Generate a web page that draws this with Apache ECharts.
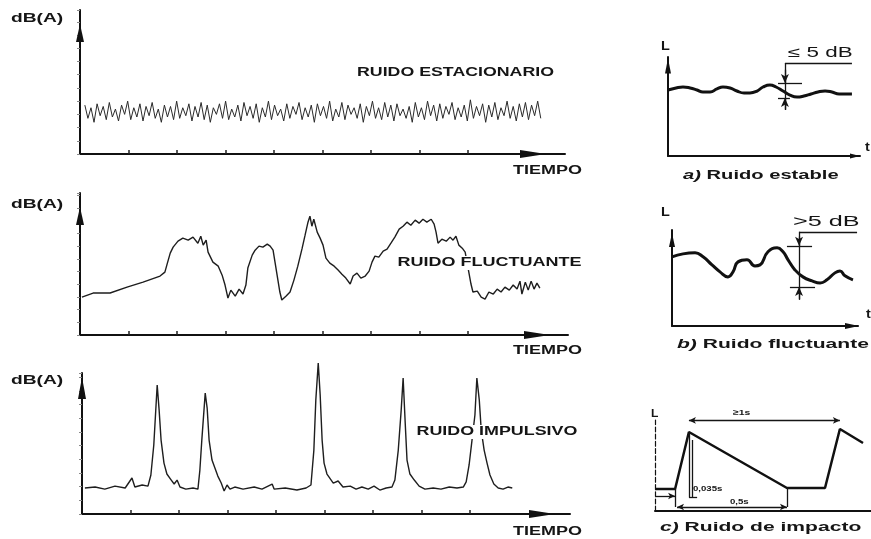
<!DOCTYPE html>
<html>
<head>
<meta charset="utf-8">
<title>Tipos de ruido</title>
<script src="https://cdn.jsdelivr.net/npm/echarts@6/dist/echarts.min.js"></script>
<style>
html,body{margin:0;padding:0;background:#fff;}
#chart{width:871px;height:539px;}
</style>
</head>
<body>
<div id="chart"></div>
<script>
// ruido estacionario: nivel de cada muestra, tiempo de 0.1 a 9.5
var estacionarioNivel = [
    37,27,35,24,38,29,36,26,39,28, 34,25,37,30,40,26,35,28,38,25,
    36,29,39,27,34,24,37,28,36,26, 40,27,35,29,38,25,36,28,39,26,
    37,24,35,30,38,27,40,26,34,28, 37,25,39,29,36,27,38,24,35,28,
    40,26,37,29,34,25,38,27,36,30, 39,26,35,28,37,24,38,29,36,27,
    40,25,34,28,39,26,37,30,35,27, 38,24,36,29,40,27,35,26,39,28,
    37,25,38,29,34,27,36,24,39,28, 35,26,40,29,37,25,38,27,36,30,
    39,26,35,28,37,25,41,27,36,29, 38,24,37,28,39,26,35,29,40,27,
    36,25,38,28,39,26,37,29,40,27
];
var estacionarioInicio = 0.1;
var estacionarioFin = 9.5;

// ruido fluctuante
var fluctuanteTiempo = [0.04,0.27,0.62,0.97,1.30,1.65,1.75,1.79,1.86,1.92,2.02,2.12,2.23,2.33,2.43,2.49,2.54,2.60,2.64,2.74,2.85,2.93,2.99,3.05,3.11,3.20,3.28,3.36,3.42,3.46,3.55,3.61,3.69,3.77,3.86,3.92,3.98,4.02,4.08,4.12,4.16,4.25,4.33,4.41,4.49,4.58,4.64,4.70,4.74,4.78,4.82,4.89,4.95,5.01,5.07,5.15,5.24,5.32,5.40,5.48,5.57,5.63,5.71,5.79,5.88,5.96,6.02,6.08,6.16,6.25,6.33,6.41,6.49,6.58,6.66,6.74,6.82,6.91,6.99,7.07,7.15,7.24,7.30,7.34,7.38,7.46,7.55,7.63,7.69,7.75,7.81,7.88,7.94,8.00,8.06,8.10,8.19,8.27,8.35,8.43,8.52,8.60,8.68,8.76,8.85,8.93,9.01,9.07,9.11,9.18,9.24,9.30,9.36,9.42,9.48];
var fluctuanteNivel = [29.9,33.1,33.1,37.8,41.7,46.5,49.6,55.1,64.6,69.3,74.0,76.4,74.8,77.2,72.4,77.9,70.9,74.8,65.4,57.5,54.3,47.2,39.4,29.1,35.4,30.7,36.2,32.3,39.4,52.8,63.0,66.9,70.1,69.3,71.7,70.1,66.9,57.5,43.3,33.9,27.6,30.7,33.9,43.3,54.3,68.5,78.7,89.0,93.7,85.8,91.3,81.1,76.4,70.9,60.6,56.7,54.3,51.2,48.0,44.9,40.2,46.5,48.8,44.9,46.5,50.4,57.5,62.2,61.4,66.1,67.7,72.4,77.2,83.5,85.8,89.0,86.6,90.6,88.2,91.3,89.0,91.3,87.4,81.1,72.4,75.6,74.0,77.2,74.8,77.9,70.9,68.5,65.4,52.8,40.2,33.9,34.6,29.9,28.3,33.9,32.3,36.2,33.9,37.8,35.4,39.4,36.2,42.5,32.3,41.7,35.4,42.5,36.2,40.9,37.0];

// ruido impulsivo
var impulsivoTiempo = [0.06,0.27,0.47,0.68,0.89,1.03,1.09,1.24,1.36,1.42,1.48,1.55,1.59,1.63,1.69,1.75,1.84,1.90,1.96,2.02,2.14,2.29,2.39,2.43,2.47,2.54,2.58,2.62,2.68,2.74,2.80,2.87,2.93,2.99,3.05,3.15,3.32,3.55,3.71,3.92,3.96,4.19,4.43,4.62,4.72,4.78,4.82,4.87,4.91,4.95,4.99,5.05,5.18,5.28,5.38,5.53,5.65,5.77,5.90,6.02,6.14,6.27,6.39,6.45,6.52,6.58,6.62,6.66,6.70,6.76,6.85,6.95,7.07,7.24,7.40,7.57,7.73,7.86,7.92,7.98,8.04,8.10,8.14,8.19,8.23,8.29,8.35,8.41,8.49,8.58,8.68,8.78,8.87];
var impulsivoNivel = [19.0,19.7,18.2,20.4,19.0,26.3,19.7,21.2,20.4,28.5,50.4,94.2,75.9,54.0,37.2,29.2,24.8,21.9,24.8,19.7,18.2,19.0,18.2,32.1,54.0,88.3,77.4,54.0,39.4,33.6,27.7,22.6,16.8,21.2,18.2,19.7,18.2,19.7,18.2,21.9,18.2,19.0,17.5,19.0,21.2,46.7,83.2,110.2,86.9,54.0,37.2,29.2,22.6,24.1,19.7,20.4,18.2,19.7,18.2,20.4,17.5,19.0,19.7,24.8,46.7,75.9,99.3,68.6,39.4,29.2,24.8,20.4,18.2,19.0,18.2,19.7,19.0,19.7,23.4,35.8,54.0,72.3,99.3,83.2,61.3,46.7,37.2,28.5,21.9,19.0,18.2,19.7,19.0];

// a) ruido estable
var estableTiempo = [0,0.42,0.78,1.15,1.51,1.82,2.19,2.55,2.86,3.23,3.59,3.96,4.27,4.64,4.95,5.31,5.63,5.99,6.35,6.72,7.08,7.45,7.81,8.18,8.54,8.91,9.27,9.58];
var estableNivel = [67.3,69.4,70.4,69.4,67.3,65.3,65.3,68.4,70.4,69.4,66.3,64.3,64.3,66.3,70.4,72.4,70.4,66.3,62.2,60.2,61.2,63.3,65.3,66.3,65.3,63.3,63.3,63.3];
var estableCotas = [[6.09,94.9,6.09,46.9],[6.09,94.9,9.58,94.9],[5.73,74.5,6.98,74.5],[5.73,59.2,6.35,59.2],[6.09,88.0,6.09,74.5],[6.09,47.5,6.09,59.2]];
var estableFlechas = [['none','none'],['none','none'],['none','none'],['none','none'],['none','arrow'],['none','arrow']];

// b) ruido fluctuante
var fluctBTiempo = [0,0.59,1.24,1.67,2.15,2.58,3.01,3.28,3.55,4.03,4.46,4.73,5.16,5.65,5.97,6.24,6.61,7.04,7.53,7.96,8.33,8.76,9.03,9.30,9.73];
var fluctBNivel = [74.2,77.4,78.5,74.2,65.6,58.1,52.7,58.1,68.8,71.0,64.5,65.6,79.6,83.9,79.6,71.0,60.2,52.7,48.4,46.2,49.5,57.0,59.1,53.8,49.5];
var fluctBCotas = [[6.83,101.1,6.83,28.0],[6.83,101.1,9.95,101.1],[6.18,86.0,7.53,86.0],[6.34,41.9,7.69,41.9],[6.83,96.0,6.83,86.0],[6.83,29.0,6.83,41.9]];
var fluctBFlechas = [['none','none'],['none','none'],['none','none'],['none','none'],['none','arrow'],['none','arrow']];

// c) ruido de impacto
var impactoTiempo = [0,0.93,1.57,6.11,7.87,8.56,9.63];
var impactoNivel = [24.2,24.2,86.8,25.3,25.3,90.1,74.7];
var impactoCotas = [[1.57,99.5,8.56,99.5],[1.57,86.8,1.57,15.4],[1.71,78.0,1.71,15.4],[1.57,15.4,1.95,15.4],[0,16.5,0.93,16.5],[1.02,4.4,6.11,4.4],[0.93,24.2,0.93,4.4],[6.11,25.3,6.11,4.4]];
var impactoFlechas = [['arrow','arrow'],['none','none'],['none','none'],['none','none'],['none','arrow'],['arrow','arrow'],['none','none'],['none','none']];

var ticksTiempo = [1,2,3,4,5,6,7,8];

function pares(xs, ys) {
    var d = [];
    for (var i = 0; i < ys.length; i++) d.push([xs[i], ys[i]]);
    return d;
}
var estacionarioTiempo = [];
for (var k = 0; k < estacionarioNivel.length; k++) {
    estacionarioTiempo.push(estacionarioInicio + k * (estacionarioFin - estacionarioInicio) / (estacionarioNivel.length - 1));
}

function cotas(lista, flechas) {
    var d = [];
    for (var i = 0; i < lista.length; i++) {
        var s = lista[i];
        d.push([{coord: [s[0], s[1]], symbol: flechas[i][0]}, {coord: [s[2], s[3]], symbol: flechas[i][1]}]);
    }
    return d;
}
function markCotas(data, size) {
    return {
        silent: true,
        symbol: ['none', 'none'],
        symbolSize: size,
        label: {show: false},
        lineStyle: {color: '#151515', width: 1.3, type: 'solid'},
        emphasis: {disabled: true},
        data: data
    };
}

// ejes
function ejeX(g, max, flecha, offset, ticks) {
    return {
        type: 'value', gridIndex: g, min: 0, max: max,
        axisLine: {
            show: true, onZero: false,
            symbol: flecha ? ['none', 'triangle'] : ['none', 'none'],
            symbolSize: flecha || [8, 20],
            symbolOffset: [0, offset || 0],
            lineStyle: {color: '#111', width: 2}
        },
        axisTick: ticks ? {show: true, inside: true, length: 4, customValues: ticks, lineStyle: {color: '#222', width: 1.5}} : {show: false},
        axisLabel: {show: false},
        splitLine: {show: false}
    };
}
function ejeY(g, max, flecha, offset, ticks, tipo) {
    return {
        type: 'value', gridIndex: g, min: 0, max: max, interval: 10,
        axisLine: {
            show: true, onZero: false,
            symbol: flecha ? ['none', 'triangle'] : ['none', 'none'],
            symbolSize: flecha || [8, 20],
            symbolOffset: [0, offset || 0],
            lineStyle: {color: '#111', width: tipo ? 1.2 : 2, type: tipo || 'solid'}
        },
        axisTick: ticks ? {show: true, length: 3, lineStyle: {color: '#888', width: 1}} : {show: false},
        axisLabel: {show: false},
        splitLine: {show: false}
    };
}

// textos
function texto(x, y, s, size, escala, extra) {
    var st = {
        text: s, fill: '#151515',
        fontFamily: '"Liberation Sans", Arial, sans-serif',
        fontSize: size, fontWeight: 'bold',
        align: 'left', verticalAlign: 'middle'
    };
    extra = extra || {};
    for (var p in extra) st[p] = extra[p];
    return {type: 'text', x: x, y: y, z: 100, scaleX: escala, style: st};
}
var rot = {i: {fontStyle: 'italic', fontWeight: 'bold', fontSize: 13, fontFamily: '"Liberation Sans", Arial, sans-serif', fill: '#151515'}};

var graficos = [
    texto(11, 19, 'dB(A)', 12, 1.6),
    texto(11, 205, 'dB(A)', 12, 1.6),
    texto(11, 381, 'dB(A)', 12, 1.6),
    texto(357, 73, 'RUIDO ESTACIONARIO', 12, 1.48),
    texto(396, 263, 'RUIDO FLUCTUANTE', 12, 1.5, {backgroundColor: '#fff', padding: [1, 1]}),
    texto(415, 432, 'RUIDO IMPULSIVO', 12, 1.49, {backgroundColor: '#fff', padding: [1, 1]}),
    texto(513, 171, 'TIEMPO', 12, 1.5),
    texto(513, 351, 'TIEMPO', 12, 1.5),
    texto(513, 532, 'TIEMPO', 12, 1.5),
    texto(661, 47, 'L', 12, 1.2),
    texto(661, 213, 'L', 12, 1.2),
    texto(651, 414, 'L', 11, 1.1),
    texto(865, 148, 't', 12, 1.2),
    texto(866, 315, 't', 12, 1.2),
    texto(788, 53, '≤ 5 dB', 14, 1.6, {fontWeight: 'normal'}),
    texto(793, 222, '>5 dB', 14, 1.8, {fontWeight: 'normal'}),
    texto(683, 175, '{i|a)} Ruido estable', 13, 1.55, {rich: rot}),
    texto(677, 344, '{i|b)} Ruido fluctuante', 13, 1.62, {rich: rot}),
    texto(660, 527, '{i|c)} Ruido de impacto', 13, 1.62, {rich: rot}),
    texto(733, 413, '≥1s', 8, 1.3),
    texto(693, 489, '0,035s', 8, 1.2),
    texto(730, 502, '0,5s', 8, 1.2)
];

var option = {
    animation: false,
    backgroundColor: '#fff',
    grid: [
        {left: 80, top: 10, width: 485, height: 144},
        {left: 80, top: 193, width: 488, height: 142},
        {left: 82, top: 373, width: 488, height: 141},
        {left: 668, top: 57, width: 192, height: 99},
        {left: 672, top: 230, width: 186, height: 96},
        {left: 655, top: 420, width: 216, height: 91}
    ],
    xAxis: [
        ejeX(0, 10, [8, 26], -32, ticksTiempo),
        ejeX(1, 10.06, [8, 26], -31, ticksTiempo),
        ejeX(2, 10.06, [8, 26], -28, ticksTiempo),
        ejeX(3, 10, [5, 10], -5),
        ejeX(4, 10, [6, 14], -6),
        ejeX(5, 10)
    ],
    yAxis: [
        ejeY(0, 109, [8, 18], -23, true),
        ejeY(1, 112, [8, 18], -23, true),
        ejeY(2, 103, [8, 22], -15, true),
        ejeY(3, 101, [6, 15], -9),
        ejeY(4, 103, [6, 14], -10),
        ejeY(5, 100, null, 0, false, 'dashed')
    ],
    graphic: graficos,
    series: [
        {
            type: 'line', xAxisIndex: 0, yAxisIndex: 0,
            data: pares(estacionarioTiempo, estacionarioNivel),
            showSymbol: false, lineStyle: {color: '#2a2a2a', width: 1}
        },
        {
            type: 'line', xAxisIndex: 1, yAxisIndex: 1,
            data: pares(fluctuanteTiempo, fluctuanteNivel),
            showSymbol: false, lineStyle: {color: '#1e1e1e', width: 1.4}
        },
        {
            type: 'line', xAxisIndex: 2, yAxisIndex: 2, clip: false,
            data: pares(impulsivoTiempo, impulsivoNivel),
            showSymbol: false, lineStyle: {color: '#1e1e1e', width: 1.4}
        },
        {
            type: 'line', xAxisIndex: 3, yAxisIndex: 3, smooth: true,
            data: pares(estableTiempo, estableNivel),
            showSymbol: false, lineStyle: {color: '#111', width: 3},
            markLine: markCotas(cotas(estableCotas, estableFlechas), [6, 9])
        },
        {
            type: 'line', xAxisIndex: 4, yAxisIndex: 4, smooth: true,
            data: pares(fluctBTiempo, fluctBNivel),
            showSymbol: false, lineStyle: {color: '#111', width: 3},
            markLine: markCotas(cotas(fluctBCotas, fluctBFlechas), [6, 9])
        },
        {
            type: 'line', xAxisIndex: 5, yAxisIndex: 5,
            data: pares(impactoTiempo, impactoNivel),
            showSymbol: false, lineStyle: {color: '#111', width: 2.5},
            markLine: markCotas(cotas(impactoCotas, impactoFlechas), [5, 7])
        }
    ]
};

var myChart = echarts.init(document.getElementById('chart'));
myChart.setOption(option);
</script>
</body>
</html>
